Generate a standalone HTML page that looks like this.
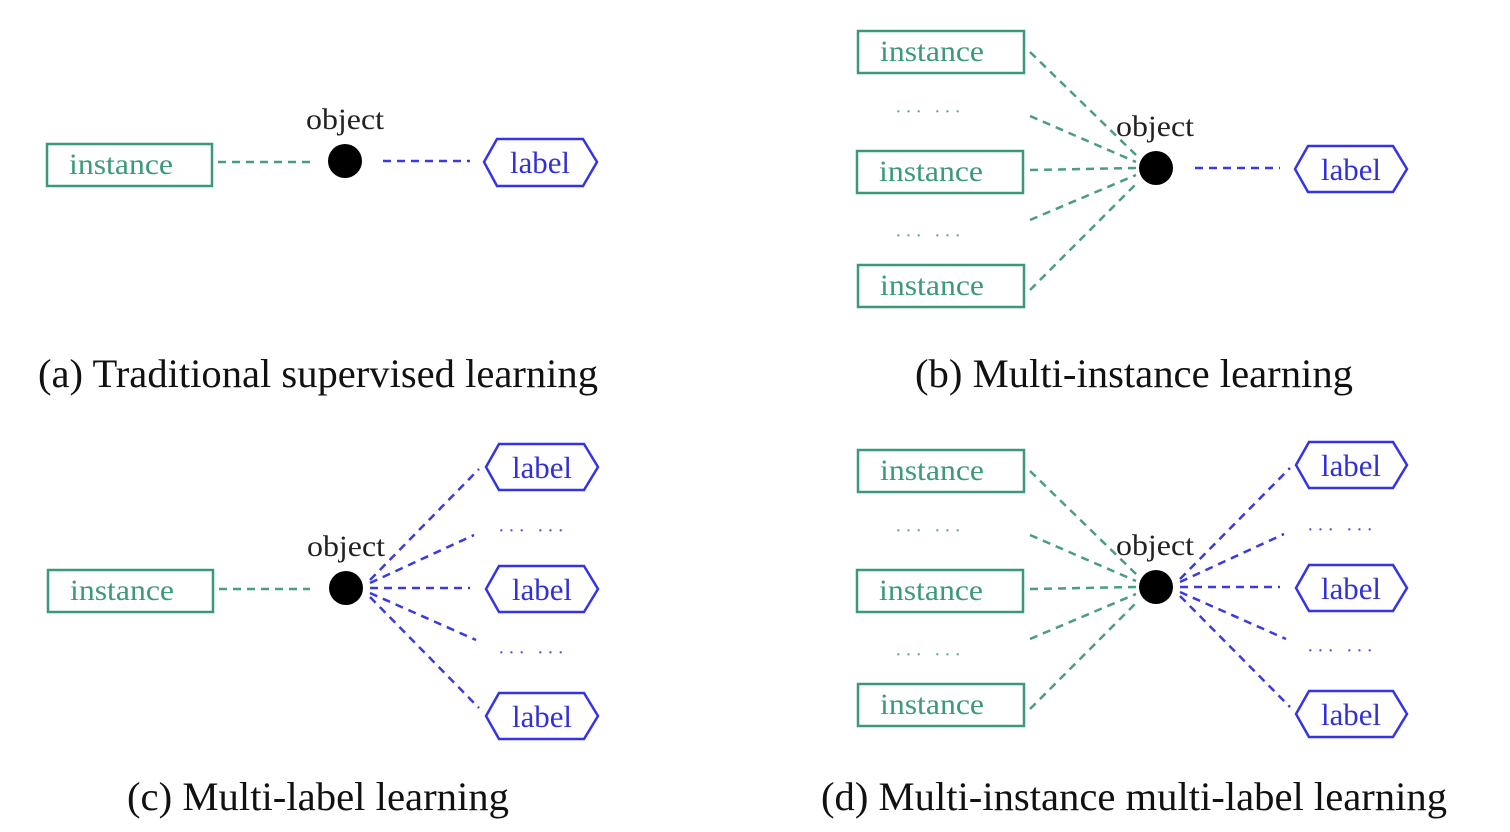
<!DOCTYPE html>
<html><head><meta charset="utf-8"><style>
html,body{margin:0;padding:0;background:#fff;}
svg{display:block;}
text{font-family:"Liberation Serif",serif;}
.g{stroke:#3a9a78;stroke-width:2.5;fill:none;}
.gd{stroke:#4a9d82;stroke-width:2.5;stroke-dasharray:8,6;fill:none;}
.bd{stroke:#3a3ae0;stroke-width:2.5;stroke-dasharray:8,6;fill:none;}
.h{stroke:#3434e6;stroke-width:2.5;fill:none;}
.it{fill:#3d9a78;font-size:30px;text-anchor:middle;}
.lt{fill:#3030d8;font-size:31px;text-anchor:middle;}
.ot{fill:#222;font-size:30px;text-anchor:middle;}
.dots{fill:#6aaa90;font-size:20px;text-anchor:middle;}
.bdots{fill:#5555dd;font-size:20px;text-anchor:middle;}
.cap{fill:#111;font-size:40px;}
</style></head><body>
<svg width="1510" height="832" viewBox="0 0 1510 832" xmlns="http://www.w3.org/2000/svg">
<!-- (a) -->
<rect class="g" x="47" y="144" width="165" height="42"/>
<text class="it" x="121" y="174" textLength="104" lengthAdjust="spacingAndGlyphs">instance</text>
<line class="gd" x1="218" y1="162" x2="310" y2="162"/>
<circle cx="345" cy="161" r="17" fill="#000"/>
<text class="ot" x="345" y="129" textLength="78" lengthAdjust="spacingAndGlyphs">object</text>
<line class="bd" x1="383" y1="161" x2="470" y2="161"/>
<polygon class="h" points="484,162 497,139 583,139 597,162 583,186 497,186"/>
<text class="lt" x="540" y="173" textLength="60" lengthAdjust="spacingAndGlyphs">label</text>
<text class="cap" x="38" y="387" textLength="560" lengthAdjust="spacingAndGlyphs">(a) Traditional supervised learning</text>

<!-- (b) -->
<rect class="g" x="858" y="31" width="166" height="42"/>
<text class="it" x="932" y="61" textLength="104" lengthAdjust="spacingAndGlyphs">instance</text>
<text class="dots" x="928" y="118" textLength="66" lengthAdjust="spacing">··· ···</text>
<rect class="g" x="857" y="151" width="166" height="42"/>
<text class="it" x="931" y="181" textLength="104" lengthAdjust="spacingAndGlyphs">instance</text>
<text class="dots" x="928" y="242" textLength="66" lengthAdjust="spacing">··· ···</text>
<rect class="g" x="858" y="265" width="166" height="42"/>
<text class="it" x="932" y="295" textLength="104" lengthAdjust="spacingAndGlyphs">instance</text>
<line class="gd" x1="1030" y1="52" x2="1136" y2="155"/>
<line class="gd" x1="1030" y1="116" x2="1136" y2="162"/>
<line class="gd" x1="1030" y1="170" x2="1136" y2="168"/>
<line class="gd" x1="1030" y1="220" x2="1136" y2="175"/>
<line class="gd" x1="1030" y1="290" x2="1138" y2="182"/>
<circle cx="1156" cy="168" r="17" fill="#000"/>
<text class="ot" x="1155" y="136" textLength="78" lengthAdjust="spacingAndGlyphs">object</text>
<line class="bd" x1="1195" y1="168" x2="1280" y2="168"/>
<polygon class="h" points="1295,169 1308,146 1393,146 1407,169 1393,192 1308,192"/>
<text class="lt" x="1351" y="180" textLength="60" lengthAdjust="spacingAndGlyphs">label</text>
<text class="cap" x="915" y="387" textLength="438" lengthAdjust="spacingAndGlyphs">(b) Multi-instance learning</text>

<!-- (c) -->
<rect class="g" x="48" y="570" width="165" height="42"/>
<text class="it" x="122" y="600" textLength="104" lengthAdjust="spacingAndGlyphs">instance</text>
<line class="gd" x1="219" y1="589" x2="310" y2="589"/>
<circle cx="346" cy="588" r="17" fill="#000"/>
<text class="ot" x="346" y="556" textLength="78" lengthAdjust="spacingAndGlyphs">object</text>
<line class="bd" x1="370" y1="580" x2="479" y2="469"/>
<line class="bd" x1="370" y1="583" x2="474" y2="535"/>
<line class="bd" x1="370" y1="588" x2="470" y2="588"/>
<line class="bd" x1="370" y1="593" x2="476" y2="640"/>
<line class="bd" x1="370" y1="597" x2="479" y2="708"/>
<polygon class="h" points="486,467 499,444 584,444 598,467 584,490 499,490"/>
<text class="lt" x="542" y="478" textLength="60" lengthAdjust="spacingAndGlyphs">label</text>
<text class="bdots" x="531" y="537" textLength="66" lengthAdjust="spacing">··· ···</text>
<polygon class="h" points="486,589 499,566 584,566 598,589 584,612 499,612"/>
<text class="lt" x="542" y="600" textLength="60" lengthAdjust="spacingAndGlyphs">label</text>
<text class="bdots" x="531" y="659" textLength="66" lengthAdjust="spacing">··· ···</text>
<polygon class="h" points="486,716 499,693 584,693 598,716 584,739 499,739"/>
<text class="lt" x="542" y="727" textLength="60" lengthAdjust="spacingAndGlyphs">label</text>
<text class="cap" x="127" y="810" textLength="382" lengthAdjust="spacingAndGlyphs">(c) Multi-label learning</text>

<!-- (d) -->
<rect class="g" x="858" y="450" width="166" height="42"/>
<text class="it" x="932" y="480" textLength="104" lengthAdjust="spacingAndGlyphs">instance</text>
<text class="dots" x="928" y="537" textLength="66" lengthAdjust="spacing">··· ···</text>
<rect class="g" x="857" y="570" width="166" height="42"/>
<text class="it" x="931" y="600" textLength="104" lengthAdjust="spacingAndGlyphs">instance</text>
<text class="dots" x="928" y="661" textLength="66" lengthAdjust="spacing">··· ···</text>
<rect class="g" x="858" y="684" width="166" height="42"/>
<text class="it" x="932" y="714" textLength="104" lengthAdjust="spacingAndGlyphs">instance</text>
<line class="gd" x1="1030" y1="471" x2="1136" y2="574"/>
<line class="gd" x1="1030" y1="535" x2="1136" y2="581"/>
<line class="gd" x1="1030" y1="589" x2="1136" y2="587"/>
<line class="gd" x1="1030" y1="639" x2="1136" y2="594"/>
<line class="gd" x1="1030" y1="709" x2="1138" y2="601"/>
<circle cx="1156" cy="587" r="17" fill="#000"/>
<text class="ot" x="1155" y="555" textLength="78" lengthAdjust="spacingAndGlyphs">object</text>
<line class="bd" x1="1180" y1="579" x2="1290" y2="468"/>
<line class="bd" x1="1180" y1="582" x2="1284" y2="534"/>
<line class="bd" x1="1180" y1="587" x2="1280" y2="587"/>
<line class="bd" x1="1180" y1="592" x2="1286" y2="639"/>
<line class="bd" x1="1180" y1="596" x2="1290" y2="707"/>
<polygon class="h" points="1296,465 1309,442 1393,442 1407,465 1393,488 1309,488"/>
<text class="lt" x="1351" y="476" textLength="60" lengthAdjust="spacingAndGlyphs">label</text>
<text class="bdots" x="1340" y="536" textLength="66" lengthAdjust="spacing">··· ···</text>
<polygon class="h" points="1296,588 1309,565 1393,565 1407,588 1393,611 1309,611"/>
<text class="lt" x="1351" y="599" textLength="60" lengthAdjust="spacingAndGlyphs">label</text>
<text class="bdots" x="1340" y="657" textLength="66" lengthAdjust="spacing">··· ···</text>
<polygon class="h" points="1296,714 1309,691 1393,691 1407,714 1393,737 1309,737"/>
<text class="lt" x="1351" y="725" textLength="60" lengthAdjust="spacingAndGlyphs">label</text>
<text class="cap" x="821" y="810" textLength="626" lengthAdjust="spacingAndGlyphs">(d) Multi-instance multi-label learning</text>
</svg>
</body></html>
